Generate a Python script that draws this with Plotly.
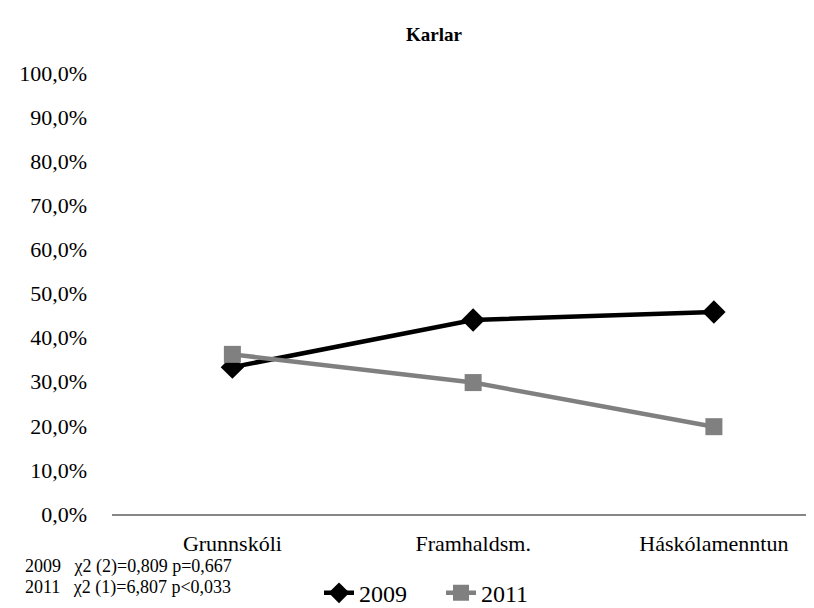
import plotly.graph_objects as go

categories = ["Grunnskóli", "Framhaldsm.", "Háskólamenntun"]
values_2009 = [0.333, 0.440, 0.458]
values_2011 = [0.362, 0.298, 0.198]
y_ticks = [i / 10 for i in range(11)]
y_tick_labels = [f"{i*10},0%" for i in range(11)]
stats_lines = ["2009&nbsp;&nbsp;&nbsp;χ2 (2)=0,809 p=0,667", "2011&nbsp;&nbsp;&nbsp;χ2 (1)=6,807 p<0,033"]

FONT = "Liberation Serif"
W, H = 814, 608
L, R, T, B = 104, 0, 65, 92
pw, ph = W - L - R, H - T - B

fig = go.Figure()
fig.add_trace(go.Scatter(
    x=[0, 1, 2], y=values_2009, name="2009", mode="lines+markers",
    line=dict(color="#000000", width=4.5),
    marker=dict(symbol="diamond", size=18, color="#000000"),
))
fig.add_trace(go.Scatter(
    x=[0, 1, 2], y=values_2011, name="2011", mode="lines+markers",
    line=dict(color="#808080", width=4.5),
    marker=dict(symbol="square", size=17, color="#808080"),
))

def px_x(x):
    return (x - L) / pw

def px_y(y):
    return (H - B - y) / ph

annotations = [
    dict(text="<b>Karlar</b>", x=px_x(426), y=px_y(26), xref="paper", yref="paper",
         showarrow=False, font=dict(family=FONT, size=19, color="#000"), xanchor="center", yanchor="middle"),
]
for i, s in enumerate(stats_lines):
    annotations.append(dict(text=s, x=px_x(15), y=px_y(570 + 21 * i), xref="paper", yref="paper",
                            showarrow=False, font=dict(family=FONT, size=18, color="#000"),
                            xanchor="left", yanchor="middle", align="left"))

fig.update_layout(
    width=W, height=H,
    margin=dict(l=L, r=R, t=T, b=B, pad=0),
    paper_bgcolor="white", plot_bgcolor="white",
    font=dict(family=FONT, size=22, color="#000"),
    showlegend=True,
    legend=dict(orientation="h", x=px_x(311), y=px_y(597), xanchor="left", yanchor="middle",
                font=dict(family=FONT, size=24, color="#000"), entrywidth=77,
                bgcolor="rgba(0,0,0,0)"),
    xaxis=dict(
        range=[-0.5, 2.449], tickmode="array", tickvals=[0, 1, 2], ticktext=categories,
        showgrid=False, zeroline=False, showline=True, linecolor="#868686", linewidth=2,
        ticks="", ticklabelstandoff=9, tickfont=dict(family=FONT, size=22),
    ),
    yaxis=dict(
        range=[0, 1], tickmode="array", tickvals=y_ticks, ticktext=y_tick_labels,
        showgrid=False, zeroline=False, showline=False, ticks="",
        ticklabelstandoff=24, tickfont=dict(family=FONT, size=22),
    ),
    annotations=annotations,
)
fig.write_html("out.html")
